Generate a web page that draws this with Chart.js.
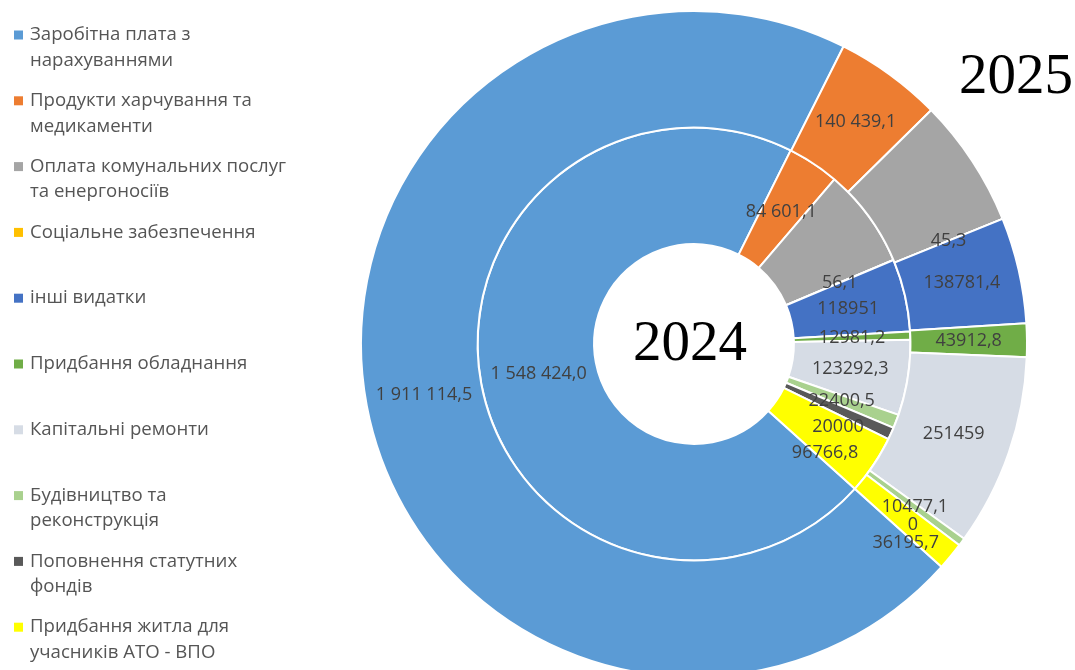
<!DOCTYPE html>
<html lang="uk">
<head>
  <meta charset="UTF-8" />
  <title>Видатки 2024 - 2025</title>
  <script src="https://cdn.jsdelivr.net/npm/chart.js"></script>
  <style>
    html, body {
      margin: 0;
      padding: 0;
      background: #fff;
      overflow: hidden;
    }

    .chart-box {
      position: relative;
      width: 1075px;
      height: 692px;
    }
  </style>
</head>
<body>

  <div class="chart-box">
    <canvas id="grafik"></canvas>
  </div>

  <script>
    const categories = [
      ['Заробітна плата з', 'нарахуваннями'],
      ['Продукти харчування та', 'медикаменти'],
      ['Оплата комунальних послуг', 'та енергоносіїв'],
      ['Соціальне забезпечення'],
      ['інші видатки'],
      ['Придбання обладнання'],
      ['Капітальні ремонти'],
      ['Будівництво та', 'реконструкція'],
      ['Поповнення статутних', 'фондів'],
      ['Придбання житла для', 'учасників АТО - ВПО']
    ];
    const years = ['2024', '2025'];

    // utilities (3rd value) has no label on the picture
    const values2024 = [1548424.0, 84601.1, 162500, 56.1, 118951, 12981.2, 123292.3, 22400.5, 20000, 96766.8];
    const values2025 = [1911114.5, 140439.1, 169000, 45.3, 138781.4, 43912.8, 251459, 10477.1, 0, 36195.7];

    // value labels exactly as written on the slices
    const labels2024 = ['1 548 424,0', '84 601,1', '', '56,1', '118951', '12981,2', '123292,3', '22400,5', '20000', '96766,8'];
    const labels2025 = ['1 911 114,5', '140 439,1', '', '45,3', '138781,4', '43912,8', '251459', '10477,1', '0', '36195,7'];

    const colors = ['#5B9BD5', '#ED7D31', '#A5A5A5', '#FFC000', '#4472C4', '#70AD47', '#D6DCE5', '#A9D18E', '#595959', '#FFFF00'];

    // numbers on the slices, pushed down a bit when they would overlap
    const sliceLabels = {
      id: 'sliceLabels',
      afterDatasetsDraw(chart) {
        const ctx = chart.ctx;
        ctx.save();
        ctx.font = '18px "Open Sans"';
        ctx.fillStyle = '#404040';
        ctx.textAlign = 'center';
        ctx.textBaseline = 'middle';
        chart.data.datasets.forEach((ds, di) => {
          const meta = chart.getDatasetMeta(di);
          let lastY = -Infinity;
          meta.data.forEach((arc, i) => {
            const txt = ds.valueLabels[i];
            if (!txt) return;
            const p = arc.tooltipPosition();
            let y = p.y;
            if (i > 0 && y < lastY + ds.labelGap) y = lastY + ds.labelGap;
            if (i > 0) lastY = y;
            ctx.fillText(txt, p.x, y);
          });
        });
        ctx.restore();
      }
    };

    // legend on the left + year captions
    const sideLegend = {
      id: 'sideLegend',
      afterDraw(chart) {
        const ctx = chart.ctx;
        ctx.save();
        ctx.font = '18.6px "Open Sans"';
        ctx.textAlign = 'left';
        ctx.textBaseline = 'middle';
        chart.data.labels.forEach((lines, i) => {
          const y = 35 + i * 65.8;
          ctx.fillStyle = colors[i];
          ctx.fillRect(14, y - 4.5, 9, 9);
          ctx.fillStyle = '#555555';
          lines.forEach((line, k) => ctx.fillText(line, 30, y + k * 25.5));
        });

        const c = chart.getDatasetMeta(0).data[0];
        ctx.fillStyle = '#000';
        ctx.font = '57px "Liberation Serif"';
        ctx.textBaseline = 'alphabetic';
        ctx.textAlign = 'center';
        ctx.fillText(years[0], c.x - 4, c.y + 16);
        ctx.textAlign = 'right';
        ctx.fillText(years[1], 1073, 93);
        ctx.restore();
      }
    };

    new Chart(document.getElementById('grafik'), {
      type: 'doughnut',
      data: {
        labels: categories,
        datasets: [
          {
            label: years[1],
            data: values2025,
            valueLabels: labels2025,
            labelGap: 18,
            backgroundColor: colors
          },
          {
            label: years[0],
            data: values2024,
            valueLabels: labels2024,
            labelGap: 26,
            backgroundColor: colors
          }
        ]
      },
      options: {
        responsive: true,
        maintainAspectRatio: false,
        animation: false,
        rotation: 132,
        cutout: '30%',
        borderColor: '#fff',
        borderWidth: 2,
        hoverOffset: 0,
        layout: {
          padding: { left: 313, right: 0, top: 10, bottom: 14 }
        },
        plugins: {
          legend: { display: false },
          tooltip: { enabled: false }
        }
      },
      plugins: [sliceLabels, sideLegend]
    });
  </script>

</body>
</html>
